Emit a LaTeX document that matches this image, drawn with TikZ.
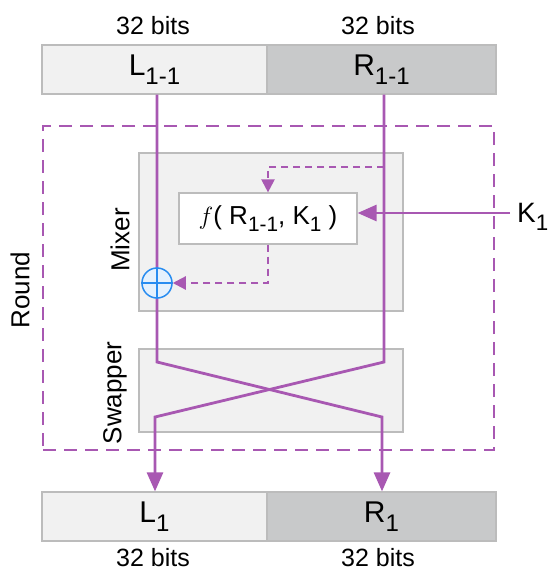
\documentclass[tikz,border=0pt]{standalone}
\usepackage{fontspec}
\setmainfont{Liberation Sans}
\usetikzlibrary{arrows.meta, positioning, calc}
\definecolor{wire}{RGB}{168,88,178}
\definecolor{boxlight}{RGB}{241,241,241}
\definecolor{boxdark}{RGB}{200,201,202}
\definecolor{boxline}{RGB}{188,188,188}
\definecolor{xorblue}{RGB}{40,140,240}
\newcommand{\sbs}[1]{\raisebox{-0.3em}{\scalebox{0.8}{#1}}}

\begin{document}
\begin{tikzpicture}[x=1pt, y=-1pt,
  half/.style={draw=boxline, line width=1.2pt, minimum width=#1, minimum height=49pt,
    inner sep=0pt, font=\fontsize{30}{32}\selectfont},
  bits/.style={font=\fontsize{25}{28}\selectfont},
  stagebox/.style={draw=boxline, fill=boxlight, line width=1.2pt, inner sep=0pt},
  sidelabel/.style={rotate=90, font=\fontsize{26}{28}\selectfont},
  wireline/.style={draw=wire, line width=2.8pt},
  flow/.style={wireline, -{Triangle[length=19pt,width=16pt]}},
  tapline/.style={draw=wire, line width=2.2pt, dash pattern=on 7pt off 5pt,
    -{Triangle[length=13pt,width=13pt]}}]
  \useasboundingbox (0,0) rectangle (551,573);

  % input halves
  \node[half=225pt, fill=boxlight] (Lin) at (154.5,69.5) {L\sbs{1-1}};
  \node[half=229pt, fill=boxdark] (Rin) at (381.5,69.5) {R\sbs{1-1}};
  \node[bits] (Lbits) at (153,26) {32 bits};
  \node[bits] (Rbits) at (378,26) {32 bits};

  % round
  \node[draw=wire, line width=2.8pt, dash pattern=on 13pt off 8pt, minimum width=451pt,
    minimum height=324pt, inner sep=0pt] (round) at (268.5,288) {};
  \node[sidelabel] (roundlbl) at (20,290) {Round};

  % mixer and swapper
  \node[stagebox, minimum width=264pt, minimum height=158pt] (mixer) at (271,232) {};
  \node[stagebox, minimum width=264pt, minimum height=83pt] (swap) at (271,390.5) {};
  \node[sidelabel] (mixlbl) at (120,240) {Mixer};
  \node[sidelabel] (swaplbl) at (115,393) {Swapper};
  \node[draw=boxline, fill=white, line width=1.2pt, minimum width=178pt, minimum height=51pt,
    inner sep=0pt, font=\fontsize{26}{30}\selectfont] (fbox) at (268,218.5)
    {$f$( R\sbs{1-1}, K\sbs{1} )};

  % output halves
  \node[half=225pt, fill=boxlight] (Lout) at (154.5,516.5) {L\sbs{1}};
  \node[half=229pt, fill=boxdark] (Rout) at (381.5,516.5) {R\sbs{1}};
  \node[bits] (Lbits2) at (153,558) {32 bits};
  \node[bits] (Rbits2) at (378,558) {32 bits};

  % key
  \node[anchor=base west, inner sep=0pt, font=\fontsize{28}{32}\selectfont] (key) at (517,222) {K\sbs{1}};
  \coordinate (kstart) at (510,213);

  % wires
  \coordinate (lhi) at (157,362);
  \coordinate (llo) at (382,417);
  \coordinate (rhi) at (384,362);
  \coordinate (rlo) at (155,417);
  \coordinate (tap) at (384,167);
  \draw[flow] (Lin.south -| lhi) -- (lhi) -- (llo) -- (Rout.north -| llo);
  \draw[flow] (Rin.south -| rhi) -- (rhi) -- (rlo) -- (Lout.north -| rlo);
  \draw[flow] (kstart) -- (fbox.east |- kstart);
  \draw[tapline] (tap) -| (fbox.north);

  % xor
  \node[circle, draw=xorblue, fill=xorblue!12, line width=1.5pt, minimum size=30pt,
    inner sep=0pt] (xor) at (157,283) {};
  \draw[xorblue, line width=1.5pt] (xor.north) -- (xor.south) (xor.west) -- (xor.east);
  \draw[tapline] (fbox.south) |- (xor.east);
\end{tikzpicture}
\end{document}
